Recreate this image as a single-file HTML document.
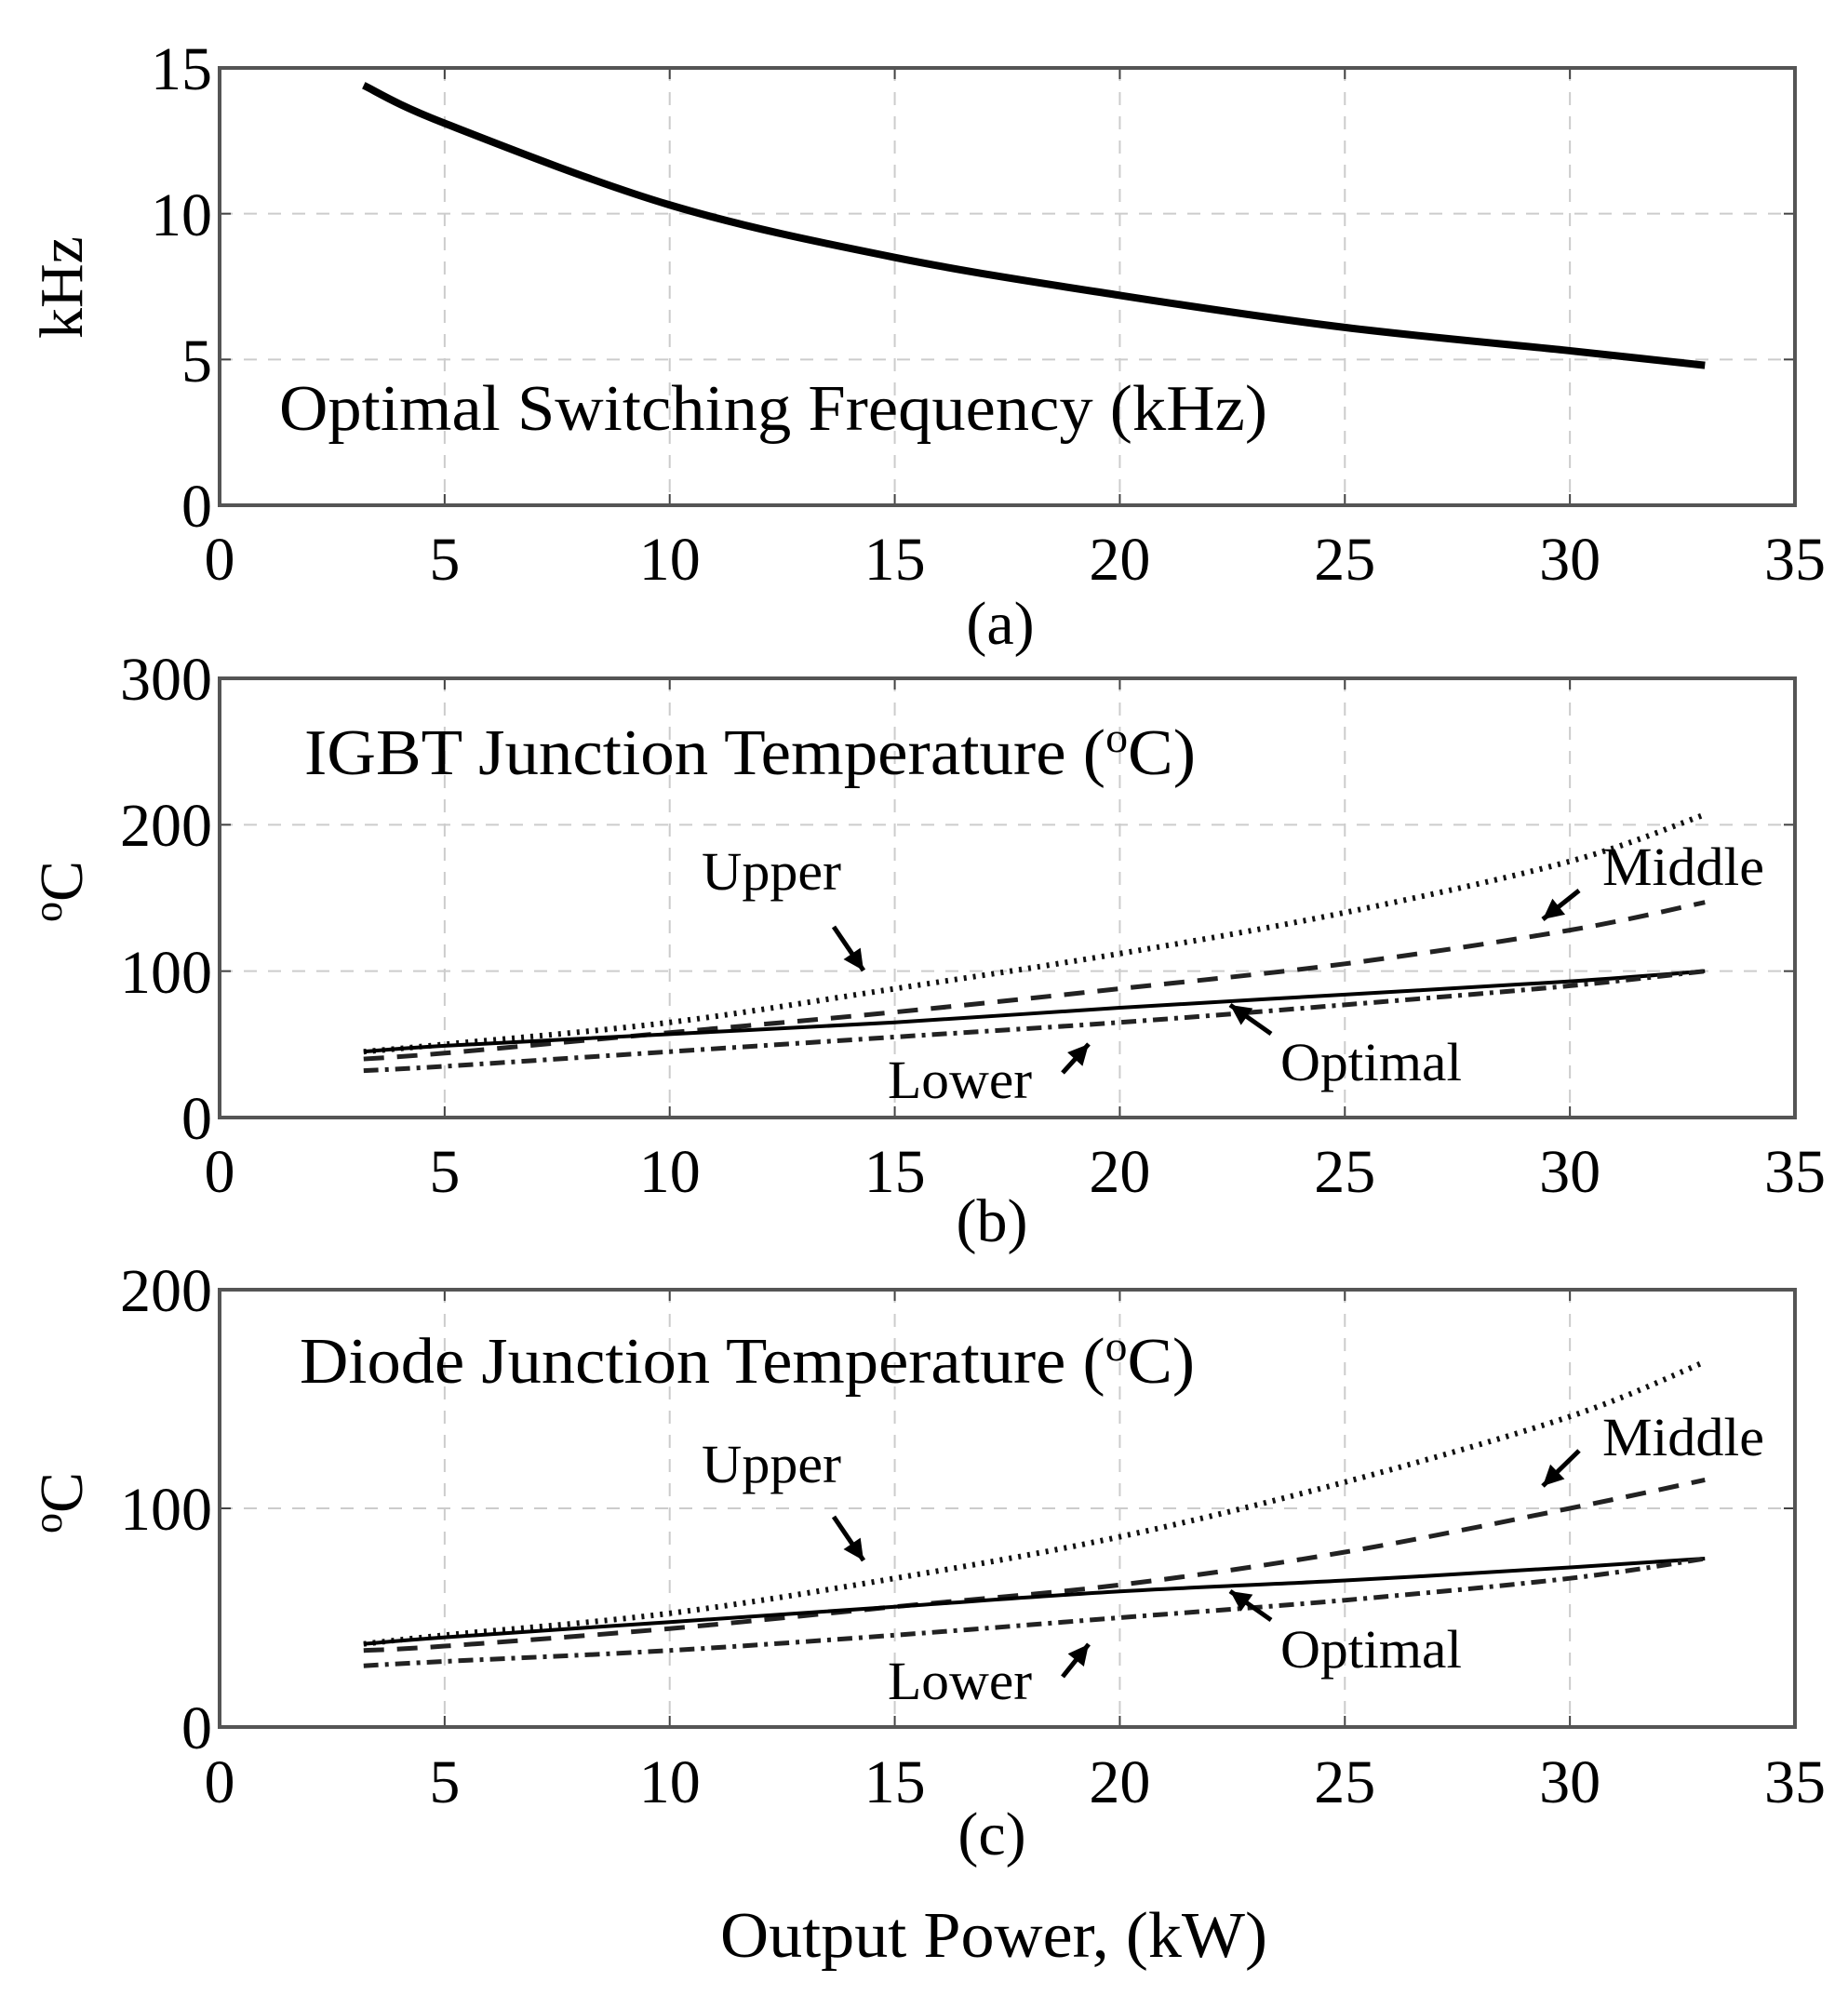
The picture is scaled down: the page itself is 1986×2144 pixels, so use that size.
<!DOCTYPE html>
<html><head><meta charset="utf-8"><style>
html,body{margin:0;padding:0;background:#fff}
svg{display:block}
text{font-family:"Liberation Serif",serif;fill:#000}
</style></head><body>
<svg id="s" width="1986" height="2144" viewBox="0 0 1986 2144" xmlns="http://www.w3.org/2000/svg">
<g id="g"></g>
<g font-size="66" text-anchor="end">
<text x="228" y="96">15</text><text x="228" y="253">10</text><text x="228" y="410">5</text><text x="228" y="566">0</text>
<text x="228" y="752">300</text><text x="228" y="909">200</text><text x="228" y="1067">100</text><text x="228" y="1224">0</text>
<text x="228" y="1409">200</text><text x="228" y="1644">100</text><text x="228" y="1879">0</text>
</g>
<g id="xt" font-size="66" text-anchor="middle"></g>
<text x="1075" y="692" font-size="66" text-anchor="middle">(a)</text>
<text x="1066" y="1334" font-size="66" text-anchor="middle">(b)</text>
<text x="1066" y="1993" font-size="66" text-anchor="middle">(c)</text>
<text transform="translate(88,309) rotate(-90)" font-size="66" text-anchor="middle">kHz</text>
<text transform="translate(88,958) rotate(-90)" font-size="66" text-anchor="middle"><tspan font-size="44" dy="-22">o</tspan><tspan dy="22">C</tspan></text>
<text transform="translate(88,1615) rotate(-90)" font-size="66" text-anchor="middle"><tspan font-size="44" dy="-22">o</tspan><tspan dy="22">C</tspan></text>
<text x="300" y="462" font-size="70" textLength="1062" lengthAdjust="spacingAndGlyphs">Optimal Switching Frequency (kHz)</text>
<text x="327" y="832" font-size="70" textLength="958" lengthAdjust="spacingAndGlyphs">IGBT Junction Temperature (<tspan font-size="46" dy="-24">o</tspan><tspan dy="24">C)</tspan></text>
<text x="322" y="1486" font-size="70" textLength="962" lengthAdjust="spacingAndGlyphs">Diode Junction Temperature (<tspan font-size="46" dy="-24">o</tspan><tspan dy="24">C)</tspan></text>
<g font-size="58">
<text x="754" y="956" textLength="150" lengthAdjust="spacingAndGlyphs">Upper</text>
<text x="1722" y="951" textLength="174" lengthAdjust="spacingAndGlyphs">Middle</text>
<text x="954" y="1180" textLength="155" lengthAdjust="spacingAndGlyphs">Lower</text>
<text x="1376" y="1161" textLength="195" lengthAdjust="spacingAndGlyphs">Optimal</text>
<text x="754" y="1593" textLength="150" lengthAdjust="spacingAndGlyphs">Upper</text>
<text x="1722" y="1564" textLength="174" lengthAdjust="spacingAndGlyphs">Middle</text>
<text x="954" y="1826" textLength="155" lengthAdjust="spacingAndGlyphs">Lower</text>
<text x="1376" y="1792" textLength="195" lengthAdjust="spacingAndGlyphs">Optimal</text>
</g>
<text x="1068" y="2103" font-size="70" text-anchor="middle" textLength="588" lengthAdjust="spacingAndGlyphs">Output Power, (kW)</text>
</svg>
<script>
var NS="http://www.w3.org/2000/svg",g=document.getElementById('g'),xt=document.getElementById('xt');
function el(t,a,p){var e=document.createElementNS(NS,t);for(var k in a)e.setAttribute(k,a[k]);(p||g).appendChild(e);return e;}
var L=236,R=1929;function X(v){return L+v*(R-L)/35;}
var panels=[{t:73,b:543,max:15,yt:[5,10],lab:601},{t:729,b:1201,max:300,yt:[100,200],lab:1259},{t:1386,b:1856,max:200,yt:[100],lab:1915}];
panels.forEach(function(p){
 for(var i=1;i<7;i++){var x=X(i*5);el('line',{x1:x,x2:x,y1:p.t,y2:p.b,stroke:'#ccc','stroke-width':2,'stroke-dasharray':'14 12'});
  el('line',{x1:x,x2:x,y1:p.b,y2:p.b-12,stroke:'#444','stroke-width':2});el('line',{x1:x,x2:x,y1:p.t,y2:p.t+12,stroke:'#444','stroke-width':2});}
 p.yt.forEach(function(v){var y=p.b-v*(p.b-p.t)/p.max;el('line',{x1:L,x2:R,y1:y,y2:y,stroke:'#ccc','stroke-width':2,'stroke-dasharray':'14 12'});
  el('line',{x1:L,x2:L+12,y1:y,y2:y,stroke:'#444','stroke-width':2});el('line',{x1:R,x2:R-12,y1:y,y2:y,stroke:'#444','stroke-width':2});});
 el('rect',{x:L,y:p.t,width:R-L,height:p.b-p.t,fill:'none',stroke:'#555','stroke-width':4});
 for(var i=0;i<8;i++){var t=el('text',{x:X(i*5),y:p.lab+22},xt);t.textContent=String(i*5);}
});
var xs=[3.2,5,10,15,20,25,30,33];
function path(p,vals,attrs){var pts=xs.map(function(x,i){return[X(x),p.b-vals[i]*(p.b-p.t)/p.max];});
 var d='M'+pts[0][0]+','+pts[0][1];
 for(var i=0;i<pts.length-1;i++){var p0=pts[Math.max(0,i-1)],p1=pts[i],p2=pts[i+1],p3=pts[Math.min(pts.length-1,i+2)];
  d+=' C'+(p1[0]+(p2[0]-p0[0])/6)+','+(p1[1]+(p2[1]-p0[1])/6)+' '+(p2[0]-(p3[0]-p1[0])/6)+','+(p2[1]-(p3[1]-p1[1])/6)+' '+p2[0]+','+p2[1];}
 attrs.d=d;attrs.fill='none';el('path',attrs);}
var A=panels[0],B=panels[1],C=panels[2];
path(A,[14.4,13.1,10.3,8.5,7.2,6.1,5.3,4.8],{stroke:'#000','stroke-width':8});
function four(p,u,m,o,l){
 path(p,u,{stroke:'#111','stroke-width':6,'stroke-dasharray':'3 7'});
 path(p,m,{stroke:'#222','stroke-width':5,'stroke-dasharray':'22 14'});
 path(p,o,{stroke:'#000','stroke-width':4});
 path(p,l,{stroke:'#222','stroke-width':5,'stroke-dasharray':'16 7 4 7'});}
four(B,[45,50,65,88,112,140,175,207],[40,44,58,72,88,105,128,147],[45,49,57,65,75,84,93,100],[32,35,45,55,65,77,90,100]);
four(C,[38,42,52,68,87,112,142,167],[35,37,45,55,65,80,100,113],[38,41,48,55,62,67,73,77],[28,30,35,42,50,58,68,77]);
function arrow(x1,y1,x2,y2){el('line',{x1:x1,y1:y1,x2:x2,y2:y2,stroke:'#000','stroke-width':5});
 var a=Math.atan2(y2-y1,x2-x1),h=22,w=11;
 var bx=x2-h*Math.cos(a),by=y2-h*Math.sin(a);
 el('polygon',{points:x2+','+y2+' '+(bx+w*Math.sin(a))+','+(by-w*Math.cos(a))+' '+(bx-w*Math.sin(a))+','+(by+w*Math.cos(a)),fill:'#000'});}
arrow(896,996,928,1043);arrow(1697,957,1658,988);arrow(1142,1153,1170,1122);arrow(1366,1111,1322,1080);
arrow(896,1630,928,1677);arrow(1697,1559,1658,1597);arrow(1142,1802,1170,1767);arrow(1366,1741,1322,1710);
</script>
</body></html>
